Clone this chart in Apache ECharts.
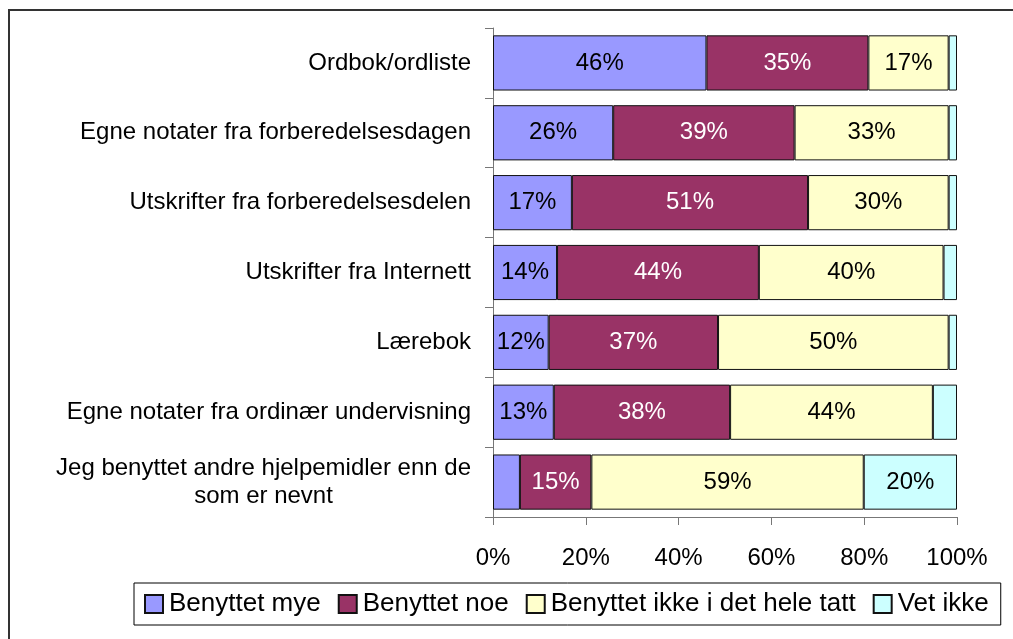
<!DOCTYPE html>
<html>
<head>
<meta charset="utf-8">
<script src="https://cdn.jsdelivr.net/npm/echarts@6/dist/echarts.min.js"></script>
<style>
  html, body { margin: 0; padding: 0; background: #fff; }
  #chart { width: 1013px; height: 639px; }
</style>
</head>
<body>
<div id="chart"></div>
<script>
// kategorier, ovenfra og ned
const categories = [
  'Ordbok/ordliste',
  'Egne notater fra forberedelsesdagen',
  'Utskrifter fra forberedelsesdelen',
  'Utskrifter fra Internett',
  'Lærebok',
  'Egne notater fra ordinær undervisning',
  'Jeg benyttet andre hjelpemidler enn de\nsom er nevnt'
];
const seriesNames = ['Benyttet mye', 'Benyttet noe', 'Benyttet ikke i det hele tatt', 'Vet ikke'];
const mye = [46, 25.9, 17, 13.8, 12, 13.1, 5.8];
const noe = [34.9, 39.1, 50.9, 43.5, 36.5, 38, 15.4];
const ikke = [17.3, 33.2, 30.3, 39.8, 49.7, 43.7, 58.7];
const vet = [1.8, 1.8, 1.8, 2.9, 1.8, 5.2, 20.1];
const xTicks = [0, 20, 40, 60, 80, 100];

const colors = ['#9999FF', '#993366', '#FFFFCC', '#CCFFFF'];
const labelColors = ['#000', '#fff', '#000', '#000'];
const font = '"Liberation Sans", Arial, sans-serif';

const chart = echarts.init(document.getElementById('chart'));

const makeSeries = (name, data, i) => ({
  name: name,
  type: 'bar',
  stack: 'total',
  data: data,
  barCategoryGap: '21%',
  itemStyle: { color: colors[i], borderColor: '#111', borderWidth: 1 },
  label: {
    show: true,
    position: 'inside',
    fontFamily: font,
    fontSize: 24,
    color: labelColors[i],
    formatter: (p) => p.value >= 10 ? Math.round(p.value) + '%' : ''
  }
});

chart.setOption({
  animation: false,
  backgroundColor: '#fff',
  graphic: [{
    type: 'rect',
    shape: { x: 9, y: 10, width: 1100, height: 1000 },
    style: { fill: 'none', stroke: '#333', lineWidth: 2 },
    silent: true
  }],
  grid: { left: 493, right: 56, top: 28, bottom: 122 },
  legend: {
    data: seriesNames,
    left: 134,
    top: 583,
    padding: [8, 12, 8, 10],
    itemGap: 17,
    itemWidth: 18,
    itemHeight: 18,
    icon: 'rect',
    borderColor: '#000',
    borderWidth: 1,
    textStyle: { fontFamily: font, fontSize: 26, color: '#000', padding: [0, 0, 0, 1] }
  },
  xAxis: {
    type: 'value',
    min: xTicks[0],
    max: xTicks[xTicks.length - 1],
    interval: 20,
    axisLine: { show: true, lineStyle: { color: '#777', width: 1 } },
    axisTick: { show: true, length: 8, lineStyle: { color: '#777' } },
    splitLine: { show: false },
    axisLabel: {
      margin: 29,
      fontFamily: font,
      fontSize: 24,
      color: '#000',
      formatter: '{value}%'
    }
  },
  yAxis: {
    type: 'category',
    data: categories,
    inverse: true,
    axisLine: { show: true, lineStyle: { color: '#777', width: 1 } },
    axisTick: { show: true, length: 8, lineStyle: { color: '#777' } },
    axisLabel: {
      margin: 22,
      formatter: (v) => v.split('\n').map(l => '{c|' + l + '}').join('\n'),
      rich: {
        c: { fontFamily: font, fontSize: 24, color: '#000', align: 'center', lineHeight: 28 }
      }
    }
  },
  series: [
    makeSeries(seriesNames[0], mye, 0),
    makeSeries(seriesNames[1], noe, 1),
    makeSeries(seriesNames[2], ikke, 2),
    makeSeries(seriesNames[3], vet, 3)
  ]
});
</script>
</body>
</html>
